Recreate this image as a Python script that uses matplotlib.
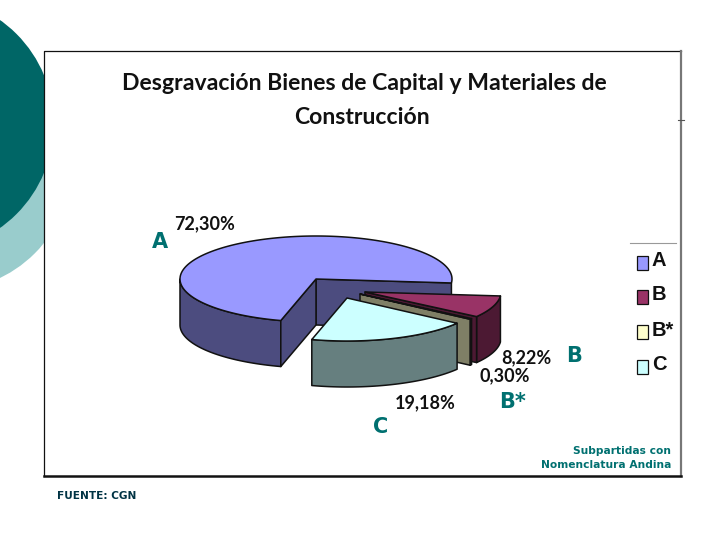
import numpy as np
import matplotlib
matplotlib.use("Agg")
import matplotlib.pyplot as plt
from matplotlib.patches import Circle, Polygon, Rectangle

categories = ["A", "B", "B*", "C"]
shares = [72.30, 8.22, 0.30, 19.18]
share_labels = ["72,30%", "8,22%", "0,30%", "19,18%"]
top_colors = ["#9999FF", "#993366", "#FFFFCC", "#CCFFFF"]
wall_colors = ["#4C4C7F", "#4C1933", "#7F7F66", "#667F7F"]
title_lines = ["Desgravación Bienes de Capital y Materiales de", "Construcción"]

TEAL = "#007070"
NARROW = ["Lato", "Liberation Sans", "DejaVu Sans"]
EDGE = dict(ec="#111111", lw=1.1, joinstyle="round")

# pie geometry, in picture pixels
RX, RY, DEPTH = 136, 43, 46
START = 255
apex = {"A": (316, 279), "B": (365, 292), "B*": (360, 294), "C": (347, 298)}

fig = plt.figure(figsize=(7.2, 5.4), dpi=100)
ax = fig.add_axes([0, 0, 1, 1])
ax.set_xlim(0, 720)
ax.set_ylim(540, 0)
ax.axis("off")

# slide background
ax.add_patch(Circle((-55, 163.5), 127, color="#99CCCC", lw=0, zorder=1))
ax.add_patch(Circle((-73.6, 124), 127.4, color="#006666", lw=0, zorder=2))

# chart panel
ax.add_patch(Rectangle((44, 51), 637, 425, fc="white", ec="none", zorder=3))
ax.plot([44, 44, 681], [476, 51, 51], color="#111111", lw=0.9, zorder=4)
ax.plot([681, 681], [51, 476], color="#777777", lw=1.6, zorder=4)
ax.plot([44, 681], [476, 476], color="#111111", lw=1.8, zorder=4)
ax.plot([678, 684], [120, 120], color="#555555", lw=0.8, zorder=4)


def rim(cx, cy, t):
    a = np.radians(t)
    return cx + RX * np.cos(a), cy - RY * np.sin(a)


def wall_band(cx, cy, t, fc, z):
    x, y = rim(cx, cy, t)
    ax.add_patch(Polygon(np.r_[np.c_[x, y], np.c_[x, y + DEPTH][::-1]], fc=fc, zorder=z, **EDGE))


def cut_face(cx, cy, t, fc, z):
    px, py = rim(cx, cy, t)
    ax.add_patch(Polygon([(cx, cy), (px, py), (px, py + DEPTH), (cx, cy + DEPTH)], fc=fc, zorder=z, **EDGE))


def top_face(cx, cy, t0, t1, fc, z):
    x, y = rim(cx, cy, np.linspace(t0, t1, 200))
    ax.add_patch(Polygon(np.r_[[(cx, cy)], np.c_[x, y]], fc=fc, zorder=z, **EDGE))


t0 = START
for i, name in enumerate(categories):
    t1 = t0 - shares[i] * 3.6
    cx, cy = apex[name]
    z = 10 + i
    if name == "A":
        wall_band(cx, cy, np.linspace(180, t0, 60), wall_colors[i], z)
        cut_face(cx, cy, t1, wall_colors[i], z)
        cut_face(cx, cy, t0, wall_colors[i], z)
    else:
        wall_band(cx, cy, np.linspace(t0, t1, 60), wall_colors[i], z)
        # the clockwise cut only shows while the slice is right of straight down
        if t1 > -90:
            cut_face(cx, cy, t1, wall_colors[i], z)
    top_face(cx, cy, t0, t1, top_colors[i], z)
    t0 = t1

# title
ax.text(364, 84, title_lines[0], ha="center", va="center", fontsize=16.6, fontweight="bold",
        family=NARROW, color="#111111", zorder=20)
ax.text(362, 118, title_lines[1], ha="center", va="center", fontsize=16.6, fontweight="bold",
        family=NARROW, color="#111111", zorder=20)

# percentages
label_xy = [(205, 224), (526, 358), (505, 376), (425, 403)]
for s, (lx, ly) in zip(share_labels, label_xy):
    ax.text(lx, ly, s, ha="center", va="center", fontsize=13, fontweight="bold",
            family=NARROW, color="#111111", zorder=20)

# teal annotations
letter_xy = [(160, 242), (574, 356), (513, 402), (381, 427)]
for s, (lx, ly) in zip(categories, letter_xy):
    ax.text(lx, ly, s, ha="center", va="center", fontsize=15, fontweight="bold",
            family="DejaVu Sans", color=TEAL, zorder=20)
ax.text(671, 451, "Subpartidas con", ha="right", va="center", fontsize=7.7, fontweight="bold",
        family="DejaVu Sans", color=TEAL, zorder=20)
ax.text(671, 465, "Nomenclatura Andina", ha="right", va="center", fontsize=7.7, fontweight="bold",
        family="DejaVu Sans", color=TEAL, zorder=20)
ax.text(57, 496, "FUENTE: CGN", ha="left", va="center", fontsize=7.6, fontweight="bold",
        family="DejaVu Sans", color="#003344", zorder=20)

# legend
ax.plot([630, 676], [243, 243], color="#999999", lw=0.8, zorder=4)
legend_y = [263, 297, 332, 367]
for name, c, ly in zip(categories, top_colors, legend_y):
    ax.add_patch(Rectangle((637, ly - 7), 11, 14, fc=c, ec="#111111", lw=0.9, zorder=20))
    ax.text(652, ly - 2, name, ha="left", va="center", fontsize=14.5, fontweight="bold",
            family="Liberation Sans", color="#111111", zorder=20)

fig.savefig("out.png", dpi=100)
